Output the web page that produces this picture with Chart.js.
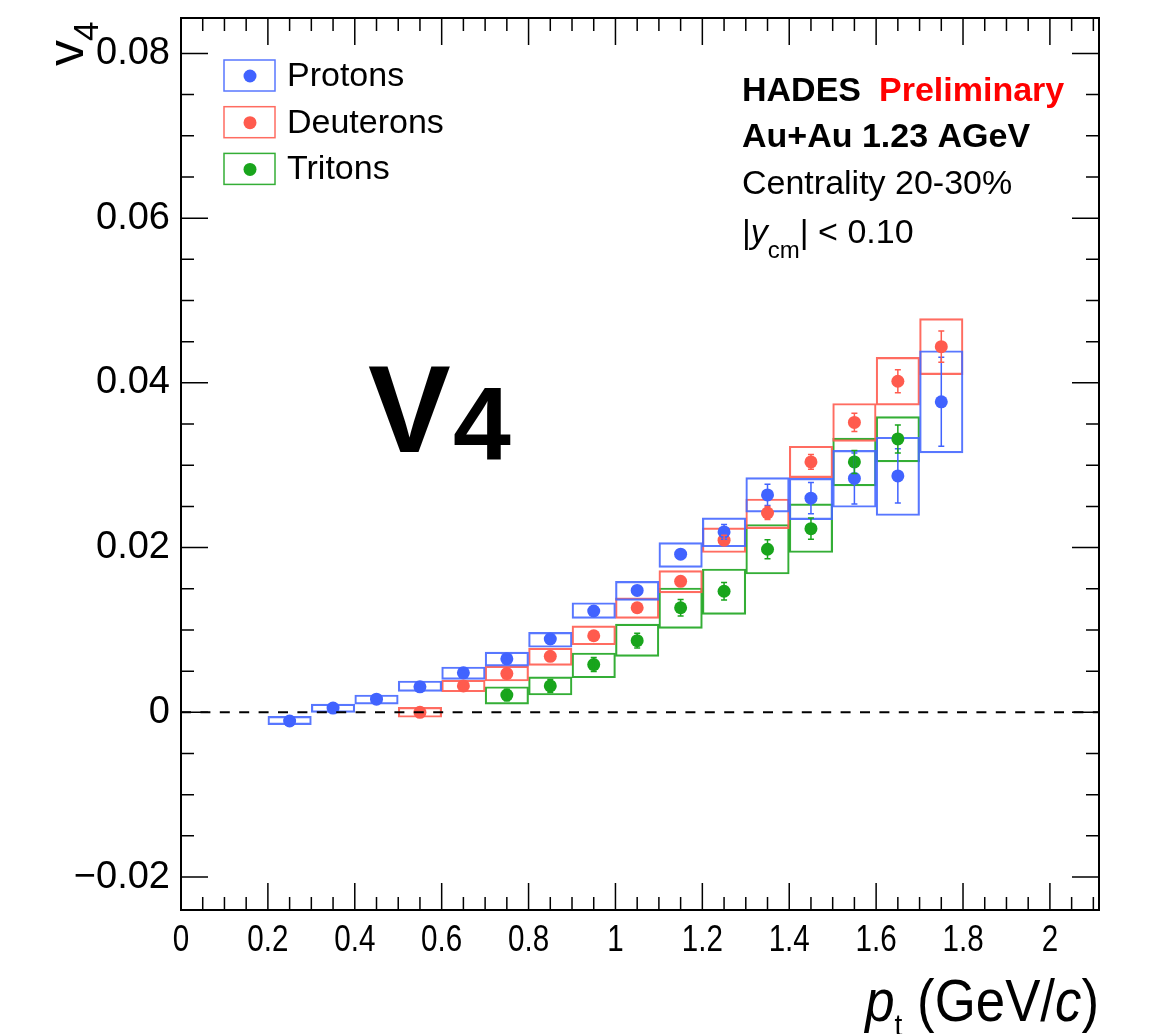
<!DOCTYPE html>
<html>
<head>
<meta charset="utf-8">
<script src="https://cdn.jsdelivr.net/npm/chart.js@4/dist/chart.umd.min.js"></script>
<style>
  html, body { margin: 0; padding: 0; background: #fff; }
  #wrap { width: 1154px; height: 1034px; }
</style>
</head>
<body>
<div id="wrap"><canvas id="v4Canvas" width="1154" height="1034"></canvas></div>
<script>
// v4 vs pt, Au+Au 1.23 AGeV, centrality 20-30%, |y_cm| < 0.10
const FONT = '"Liberation Sans", Arial, Helvetica, sans-serif';

const speciesNames = ['Protons', 'Deuterons', 'Tritons'];

// protons
const protonPt = [0.25, 0.35, 0.45, 0.55, 0.65, 0.75, 0.85, 0.95, 1.05, 1.15, 1.25, 1.35, 1.45, 1.55, 1.65, 1.75];
const protonV4 = [-0.00105, 0.00052, 0.0016, 0.0031, 0.0048, 0.0065, 0.0089, 0.0123, 0.0148, 0.0192, 0.0219, 0.0264, 0.026, 0.0284, 0.0287, 0.0377];
const protonStat = [0.0002, 0.0002, 0.0002, 0.0002, 0.0002, 0.0003, 0.0003, 0.0003, 0.0004, 0.0004, 0.0009, 0.0013, 0.0019, 0.0031, 0.0033, 0.0054];
const protonSysLo = [-0.0015, 0.0, 0.001, 0.00255, 0.004, 0.0056, 0.0079, 0.0114, 0.0136, 0.0176, 0.0201, 0.0243, 0.0234, 0.0249, 0.0239, 0.0315];
const protonSysHi = [-0.0005, 0.001, 0.0021, 0.0038, 0.0055, 0.0073, 0.0097, 0.0133, 0.0159, 0.0206, 0.0236, 0.0285, 0.0284, 0.0318, 0.0334, 0.0439];

// deuterons
const deuteronPt = [0.55, 0.65, 0.75, 0.85, 0.95, 1.05, 1.15, 1.25, 1.35, 1.45, 1.55, 1.65, 1.75];
const deuteronV4 = [0.0, 0.0032, 0.0047, 0.0068, 0.0093, 0.0127, 0.0159, 0.0209, 0.0242, 0.0304, 0.0352, 0.0402, 0.0444];
const deuteronStat = [0.0003, 0.0003, 0.0003, 0.0004, 0.0004, 0.0005, 0.0005, 0.0006, 0.0008, 0.0009, 0.0011, 0.0014, 0.0019];
const deuteronSysLo = [-0.0006, 0.0025, 0.0038, 0.0057, 0.0082, 0.0114, 0.0145, 0.0194, 0.0223, 0.0285, 0.0329, 0.0373, 0.041];
const deuteronSysHi = [0.0006, 0.0039, 0.0056, 0.0078, 0.0105, 0.0139, 0.0172, 0.0224, 0.0259, 0.0323, 0.0375, 0.0431, 0.0478];

// tritons
const tritonPt = [0.75, 0.85, 0.95, 1.05, 1.15, 1.25, 1.35, 1.45, 1.55, 1.65];
const tritonV4 = [0.0021, 0.0032, 0.0058, 0.0087, 0.0127, 0.0147, 0.0198, 0.0223, 0.0304, 0.0332];
const tritonStat = [0.0007, 0.0008, 0.00085, 0.0009, 0.001, 0.00105, 0.00115, 0.0013, 0.0014, 0.0017];
const tritonSysLo = [0.001, 0.0021, 0.0042, 0.0068, 0.0102, 0.0119, 0.0168, 0.0194, 0.0275, 0.0304];
const tritonSysHi = [0.0031, 0.0043, 0.0072, 0.0107, 0.0151, 0.0174, 0.0228, 0.0253, 0.0333, 0.0359];

const xMin = 0, xMax = 2.113;
const yMin = -0.024, yMax = 0.0843;

const dotColors = ['#4163ff', '#ff5b4e', '#19a51c'];
const boxColors = ['rgba(70,104,255,0.9)', 'rgba(255,92,80,0.9)', 'rgba(30,165,32,0.9)'];

const species = [
  { pt: protonPt, v: protonV4, stat: protonStat, lo: protonSysLo, hi: protonSysHi },
  { pt: deuteronPt, v: deuteronV4, stat: deuteronStat, lo: deuteronSysLo, hi: deuteronSysHi },
  { pt: tritonPt, v: tritonV4, stat: tritonStat, lo: tritonSysLo, hi: tritonSysHi }
];

const datasets = [];
species.forEach((s, i) => {
  datasets.push({
    type: 'bar',
    label: speciesNames[i] + ' sys',
    data: s.pt.map((x, k) => ({ x: x, y: [s.lo[k], s.hi[k]] })),
    backgroundColor: 'rgba(0,0,0,0)',
    borderColor: boxColors[i],
    borderWidth: 1.5,
    borderSkipped: false,
    grouped: false,
    barPercentage: 1,
    categoryPercentage: 1,
    order: 2
  });
});
species.forEach((s, i) => {
  datasets.push({
    type: 'scatter',
    label: speciesNames[i],
    data: s.pt.map((x, k) => ({ x: x, y: s.v[k] })),
    stat: s.stat,
    backgroundColor: dotColors[i],
    borderColor: dotColors[i],
    pointRadius: 6.5,
    pointBorderWidth: 0,
    showLine: false,
    order: 1
  });
});

function drawText(ctx, parts, x, y, sx) {
  // parts: [{t, font, color, dy}], sx = horizontal squeeze
  sx = sx || 1;
  ctx.save();
  ctx.translate(x, y);
  ctx.scale(sx, 1);
  let cx = 0;
  parts.forEach(p => {
    ctx.font = p.font;
    ctx.fillStyle = p.color || '#000';
    ctx.fillText(p.t, cx, p.dy || 0);
    cx += ctx.measureText(p.t).width + (p.gap || 0);
  });
  ctx.restore();
  return cx * sx;
}

function textWidth(ctx, parts) {
  let w = 0;
  parts.forEach(p => {
    ctx.font = p.font;
    w += ctx.measureText(p.t).width + (p.gap || 0);
  });
  return w;
}

const framePlugin = {
  id: 'rootFrame',
  afterDatasetsDraw(chart) {
    const ctx = chart.ctx;
    const xs = chart.scales.x, ys = chart.scales.y;
    const a = chart.chartArea;

    // error bars
    chart.data.datasets.forEach(ds => {
      if (!ds.stat) return;
      ctx.save();
      ctx.strokeStyle = ds.borderColor;
      ctx.lineWidth = 1.5;
      ds.data.forEach((p, k) => {
        const px = xs.getPixelForValue(p.x);
        const y1 = ys.getPixelForValue(p.y + ds.stat[k]);
        const y2 = ys.getPixelForValue(p.y - ds.stat[k]);
        ctx.beginPath();
        ctx.moveTo(px, y1); ctx.lineTo(px, y2);
        ctx.moveTo(px - 3, y1); ctx.lineTo(px + 3, y1);
        ctx.moveTo(px - 3, y2); ctx.lineTo(px + 3, y2);
        ctx.stroke();
      });
      ctx.restore();
    });

    ctx.save();
    // zero line
    const y0 = ys.getPixelForValue(0);
    ctx.strokeStyle = '#000';
    ctx.lineWidth = 2;
    ctx.setLineDash([10, 9.4]);
    ctx.beginPath();
    ctx.moveTo(a.left, y0); ctx.lineTo(a.right, y0);
    ctx.stroke();
    ctx.setLineDash([]);

    // frame
    ctx.lineWidth = 2;
    ctx.strokeRect(a.left, a.top, a.right - a.left, a.bottom - a.top);

    // inward ticks
    ctx.lineWidth = 1.5;
    ctx.beginPath();
    for (let i = 0; i * 0.05 <= xMax + 1e-9; i++) {
      const len = (i % 4 === 0) ? 27 : 13;
      const px = xs.getPixelForValue(i * 0.05);
      ctx.moveTo(px, a.bottom); ctx.lineTo(px, a.bottom - len);
      ctx.moveTo(px, a.top); ctx.lineTo(px, a.top + len);
    }
    for (let i = -4; i * 0.005 <= yMax + 1e-9; i++) {
      const v = i * 0.005;
      if (v < yMin) continue;
      const len = (i % 4 === 0) ? 27 : 13;
      const py = ys.getPixelForValue(v);
      ctx.moveTo(a.left, py); ctx.lineTo(a.left + len, py);
      ctx.moveTo(a.right, py); ctx.lineTo(a.right - len, py);
    }
    ctx.stroke();

    // x tick labels (squeezed like the original)
    ctx.textBaseline = 'alphabetic';
    ctx.textAlign = 'left';
    xs.ticks.forEach(t => {
      const lbl = String(Math.round(t.value * 10) / 10);
      const part = [{ t: lbl, font: '37px ' + FONT }];
      const w = textWidth(ctx, part) * 0.8;
      drawText(ctx, part, xs.getPixelForValue(t.value) - w / 2, 951, 0.8);
    });

    // legend
    speciesNames.forEach((name, i) => {
      const top = 60 + i * 46.7;
      ctx.strokeStyle = boxColors[i];
      ctx.lineWidth = 1.5;
      ctx.strokeRect(224, top, 51, 31);
      ctx.fillStyle = dotColors[i];
      ctx.beginPath();
      ctx.arc(250, top + 16, 6.5, 0, Math.PI * 2);
      ctx.fill();
      drawText(ctx, [{ t: name, font: '34px ' + FONT }], 287, top + 26);
    });

    // info text
    drawText(ctx, [
      { t: 'HADES', font: 'bold 34px ' + FONT, gap: 18 },
      { t: 'Preliminary', font: 'bold 34px ' + FONT, color: '#ff0000' }
    ], 742, 101);
    drawText(ctx, [{ t: 'Au+Au 1.23 AGeV', font: 'bold 34px ' + FONT }], 742, 147);
    drawText(ctx, [{ t: 'Centrality 20-30%', font: '34px ' + FONT }], 742, 194);
    drawText(ctx, [
      { t: '|', font: '34px ' + FONT },
      { t: 'y', font: 'italic 34px ' + FONT },
      { t: 'cm', font: '24px ' + FONT, dy: 15 },
      { t: '| < 0.10', font: '34px ' + FONT }
    ], 742, 243);

    // big label
    drawText(ctx, [{ t: 'V', font: 'bold 124px ' + FONT }], 368, 452);
    drawText(ctx, [{ t: '4', font: 'bold 104px ' + FONT }], 453, 460);

    // x title, right aligned to the frame
    const title = [
      { t: 'p', font: 'italic 60px ' + FONT },
      { t: 't', font: '32px ' + FONT, dy: 15 },
      { t: ' (GeV/', font: '60px ' + FONT },
      { t: 'c', font: 'italic 60px ' + FONT },
      { t: ')', font: '60px ' + FONT }
    ];
    const tw = textWidth(ctx, title) * 0.88;
    drawText(ctx, title, a.right - tw, 1021, 0.88);

    // y title
    ctx.save();
    ctx.translate(83, 66);
    ctx.rotate(-Math.PI / 2);
    ctx.font = '52px ' + FONT;
    ctx.fillStyle = '#000';
    ctx.fillText('v', 0, 0);
    const wv = ctx.measureText('v').width;
    ctx.font = '35px ' + FONT;
    ctx.fillText('4', wv - 1, 15);
    ctx.restore();

    ctx.restore();
  }
};

new Chart(document.getElementById('v4Canvas'), {
  type: 'bar',
  data: { datasets },
  options: {
    responsive: false,
    animation: false,
    events: [],
    layout: { padding: { left: 0, top: 18, right: 55, bottom: 0 } },
    plugins: {
      legend: { display: false },
      tooltip: { enabled: false }
    },
    scales: {
      x: {
        type: 'linear',
        min: xMin,
        max: xMax,
        offset: false,
        grid: { display: false, drawTicks: false, offset: false },
        border: { display: false },
        ticks: {
          display: false,
          stepSize: 0.2,
          includeBounds: false,
          autoSkip: false
        },
        afterFit: s => {
          s.height = 124;
          s.paddingLeft = 0; s.paddingRight = 0;
        }
      },
      y: {
        type: 'linear',
        min: yMin,
        max: yMax,
        grid: { display: false, drawTicks: false },
        border: { display: false },
        ticks: {
          stepSize: 0.02,
          includeBounds: false,
          padding: 11,
          color: '#000',
          font: { family: FONT, size: 38 },
          callback: v => {
            const r = Math.round(v * 100) / 100;
            if (r === 0) return '0';
            return r < 0 ? '\u2212' + Math.abs(r).toFixed(2) : r.toFixed(2);
          }
        },
        afterFit: s => {
          s.width = 181;
          s.paddingTop = 0; s.paddingBottom = 0;
        }
      }
    }
  },
  plugins: [framePlugin]
});
</script>
</body>
</html>
